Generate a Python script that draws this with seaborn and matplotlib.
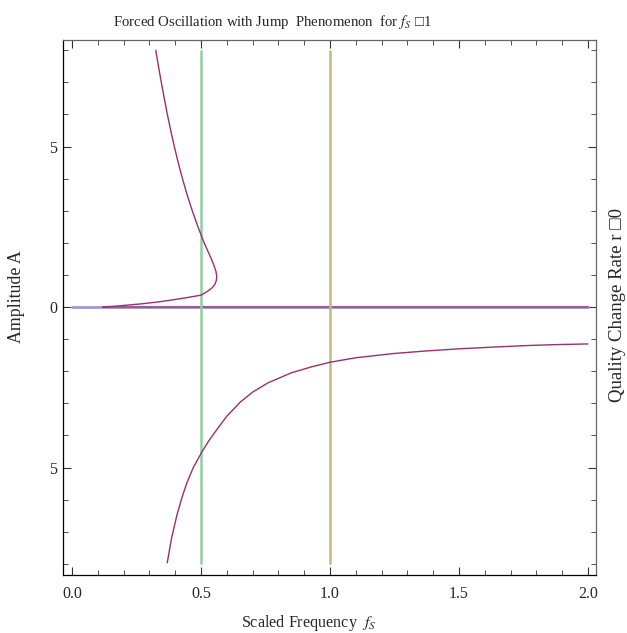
import numpy as np
import pandas as pd
import seaborn as sns
import matplotlib
matplotlib.use('Agg')
import matplotlib.pyplot as plt
from matplotlib.ticker import MultipleLocator, FixedLocator, FixedFormatter, FormatStrFormatter

# upper branch (resonance branch with the fold)
upper_f = [0.12, 0.16, 0.20, 0.27, 0.34, 0.40, 0.45, 0.50, 0.513, 0.527, 0.543,
           0.553, 0.559, 0.561, 0.558, 0.552, 0.540, 0.526, 0.512, 0.503, 0.488,
           0.466, 0.446, 0.428, 0.4115, 0.3965, 0.3825, 0.3695, 0.3575, 0.346,
           0.335, 0.3245]
upper_a = [0.0, 0.02, 0.05, 0.10, 0.165, 0.235, 0.30, 0.37, 0.43, 0.50, 0.60,
           0.70, 0.82, 0.95, 1.10, 1.25, 1.50, 1.75, 2.00, 2.19, 2.50,
           3.00, 3.50, 4.00, 4.50, 5.00, 5.50, 6.00, 6.50, 7.00,
           7.50, 8.00]

# lower branch (negative amplitude)
lower_f = [0.369, 0.385, 0.406, 0.425, 0.444, 0.47, 0.503, 0.53, 0.561, 0.60,
           0.651, 0.70, 0.76, 0.85, 0.93, 1.0, 1.1, 1.245, 1.37, 1.504, 1.63,
           1.762, 1.88, 2.0]
lower_a = [-7.97, -7.23, -6.50, -5.96, -5.50, -5.00, -4.52, -4.17, -3.82, -3.40,
           -2.97, -2.65, -2.36, -2.05, -1.86, -1.72, -1.58, -1.45, -1.37, -1.30,
           -1.25, -1.20, -1.17, -1.15]

# trivial solution A = 0
zero_f = [0.0, 2.0]
zero_a = [0.0, 0.0]
trivial_f = [0.12, 2.0]
trivial_a = [0.0, 0.0]

# vertical markers
vline_x = [0.5, 1.0]
vline_colors = ['#8fcf9f', '#c9b77c']
vline_span = [-8.0, 8.0]

ytick_pos = [-5, 0, 5]
ytick_lab = ['5', '0', '5']

sns.set_style('ticks')
plt.rcParams['font.family'] = ['Liberation Serif', 'DejaVu Serif']
plt.rcParams['mathtext.fontset'] = 'stix'

fig = plt.figure(figsize=(6.27, 6.33), dpi=100)
ax = fig.add_axes([0.1005, 0.0916, 0.8501, 0.8452])

up = pd.DataFrame({'f': upper_f, 'A': upper_a})
lo = pd.DataFrame({'f': lower_f, 'A': lower_a})
ze = pd.DataFrame({'f': zero_f, 'A': zero_a})
tr = pd.DataFrame({'f': trivial_f, 'A': trivial_a})

purple = '#9a2f6e'
sns.lineplot(data=ze, x='f', y='A', ax=ax, color='#9c9cd2', lw=2.0, sort=False)
sns.lineplot(data=tr, x='f', y='A', ax=ax, color=purple, lw=1.6, alpha=0.6, sort=False)
for xv, c in zip(vline_x, vline_colors):
    ax.vlines(xv, vline_span[0], vline_span[1], color=c, lw=1.8)
sns.lineplot(data=up, x='f', y='A', ax=ax, color=purple, lw=1.0, sort=False)
sns.lineplot(data=lo, x='f', y='A', ax=ax, color=purple, lw=1.0, sort=False)

ax.set_xlim(-0.035, 2.031)
ax.set_ylim(-8.35, 8.32)

ax.xaxis.set_major_locator(MultipleLocator(0.5))
ax.xaxis.set_minor_locator(MultipleLocator(0.1))
ax.xaxis.set_major_formatter(FormatStrFormatter('%.1f'))
ax.yaxis.set_major_locator(FixedLocator(ytick_pos))
ax.yaxis.set_major_formatter(FixedFormatter(ytick_lab))
ax.yaxis.set_minor_locator(MultipleLocator(1))

ax.tick_params(which='both', direction='in', top=True, right=True,
               labelsize=11.5, color='#333333')
ax.tick_params(which='major', length=6, width=0.8)
ax.tick_params(which='minor', length=3.5, width=0.6)
ax.tick_params(axis='x', which='major', pad=8)
ax.tick_params(axis='y', which='major', pad=4)

for s in ['left', 'bottom']:
    ax.spines[s].set_color('black')
for s in ['top', 'right']:
    ax.spines[s].set_color('#666666')
for s in ax.spines.values():
    s.set_linewidth(0.9)

ax.set_xlabel('Scaled Frequency  $f_S$', fontsize=11.6)
ax.xaxis.set_label_coords(0.46, -0.071)
ax.set_ylabel('Amplitude A', fontsize=12.8)
ax.yaxis.set_label_coords(-0.071, 0.52)
fig.text(0.435, 0.965, 'Forced Oscillation with Jump  Phenomenon  for $f_S$ \u25a11',
         ha='center', va='center', fontsize=10.6)
ax.text(1.041, 0.505, 'Quality Change Rate r \u25a10', transform=ax.transAxes,
        rotation=90, ha='center', va='center', fontsize=13.5)

fig.savefig('out.png', dpi=100)
